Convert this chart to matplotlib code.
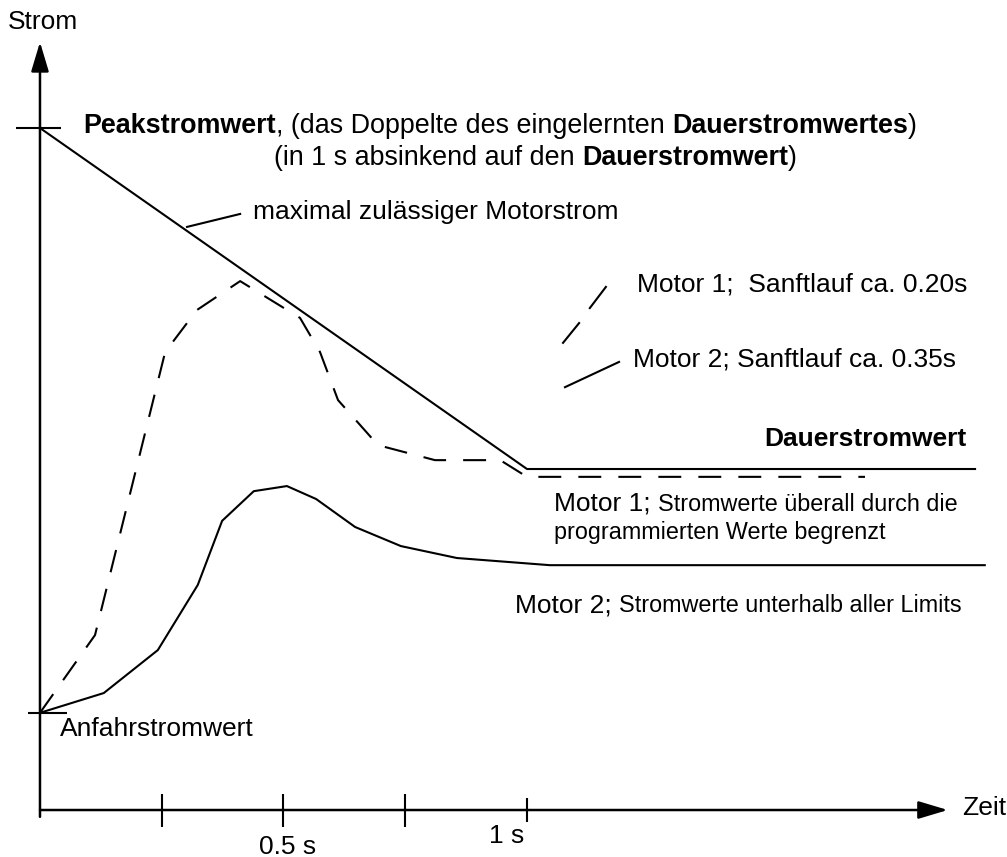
import matplotlib
matplotlib.use('Agg')
import matplotlib.pyplot as plt

plt.rcParams['font.family'] = ['Liberation Sans', 'DejaVu Sans']

# Zeit in s, Strom relativ zum Dauerstromwert
peak_value = 2.0
dauer_value = 1.0
anfahr_value = 0.285

limit_t = [0.0, 1.0, 1.92]
limit_i = [2.0, 1.0, 1.0]

motor1_t = [0.0, 0.113, 0.257, 0.322, 0.411, 0.534, 0.575, 0.612, 0.694, 0.811, 0.945, 1.0, 1.694]
motor1_i = [0.285, 0.513, 1.343, 1.466, 1.551, 1.443, 1.343, 1.202, 1.070, 1.026, 1.026, 0.977, 0.977]

motor2_t = [0.0, 0.131, 0.242, 0.324, 0.374, 0.439, 0.507, 0.567, 0.647, 0.741, 0.856, 1.047, 1.94]
motor2_i = [0.285, 0.343, 0.469, 0.660, 0.848, 0.935, 0.950, 0.912, 0.830, 0.774, 0.739, 0.718, 0.718]

tick_t = [0.25, 0.5, 0.75]
tick_1s = 1.0

W, H = 1007, 857
BIG = 19.0
HEAD = 19.4
SMALL = 16.8
LW = 1.5
DASH = (11, 8.2)

fig = plt.figure(figsize=(W / 100, H / 100), dpi=100)
ax = fig.add_axes([0, 0, 1, 1])
ax.set_xlim(-0.0821, 1.9856)
ax.set_ylim(-0.1378, 2.3754)
ax.axis('off')


def px(x, y):
    # pixel position -> axes fraction, for placing the labels
    return x / W, 1 - y / H


def txt(x, y, s, **kw):
    kw.setdefault('fontsize', BIG)
    kw.setdefault('va', 'center')
    return ax.text(*px(x, y), s, transform=ax.transAxes, **kw)


def after(prev, s, gap=0.0, **kw):
    kw.setdefault('fontsize', BIG)
    return ax.annotate(s, xy=(1, 0), xycoords=prev, xytext=(gap, 0),
                       textcoords='offset points', va='bottom', ha='left', **kw)


# axes with arrows
arrow = dict(arrowstyle='-|>,head_length=1.0,head_width=0.3', mutation_scale=18,
             lw=1.8, color='black', shrinkA=0, shrinkB=0)
ax.annotate('', xy=(0, 2.252), xytext=(0, -0.02), arrowprops=arrow)
ax.annotate('', xy=(1.864, 0), xytext=(0, 0), arrowprops=arrow)
ax.vlines(tick_t, -0.05, 0.047, color='black', lw=1.5)
ax.vlines(tick_1s, -0.036, 0.036, color='black', lw=1.5)
ax.hlines(peak_value, -0.049, 0.043, color='black', lw=1.5)
ax.hlines(anfahr_value, -0.025, 0.055, color='black', lw=1.5)

# curves
ax.plot(limit_t, limit_i, color='black', lw=LW)
ax.plot(motor1_t, motor1_i, color='black', lw=LW, dashes=DASH)
ax.plot(motor2_t, motor2_i, color='black', lw=LW)

# leader lines
ax.plot([0.302, 0.411], [1.710, 1.748], color='black', lw=LW)
ax.plot([1.074, 1.107], [1.370, 1.428], color='black', lw=LW)
ax.plot([1.129, 1.162], [1.472, 1.534], color='black', lw=LW)
ax.plot([1.078, 1.189], [1.240, 1.314], color='black', lw=LW)

# labels
txt(8, 22, 'Strom')
txt(962, 808, 'Zeit')
txt(288, 847, '0.5 s', ha='center')
txt(524, 836, '1 s', ha='right')

t = txt(83, 139, 'Peakstromwert', fontweight='bold', va='bottom', fontsize=HEAD)
t = after(t, ', (das Doppelte des eingelernten ', fontsize=HEAD)
t = after(t, 'Dauerstromwertes', fontweight='bold', fontsize=HEAD)
after(t, ')', fontsize=HEAD)

t = txt(274, 171, '(in 1 s absinkend auf den ', va='bottom', fontsize=HEAD)
t = after(t, 'Dauerstromwert', fontweight='bold', fontsize=HEAD)
after(t, ')', fontsize=HEAD)

txt(253, 212, 'maximal zulässiger Motorstrom')
txt(637, 285, 'Motor 1;  Sanftlauf ca. 0.20s')
txt(633, 360, 'Motor 2; Sanftlauf ca. 0.35s')
txt(966, 439, 'Dauerstromwert', fontweight='bold', ha='right')

t = txt(554, 516, 'Motor 1;', va='bottom')
after(t, 'Stromwerte überall durch die', gap=5, fontsize=SMALL)
txt(554, 533, 'programmierten Werte begrenzt', fontsize=SMALL)

t = txt(515, 617, 'Motor 2;', va='bottom')
after(t, 'Stromwerte unterhalb aller Limits', gap=5, fontsize=SMALL)

txt(60, 729, 'Anfahrstromwert')

fig.savefig('out.png', dpi=100)
